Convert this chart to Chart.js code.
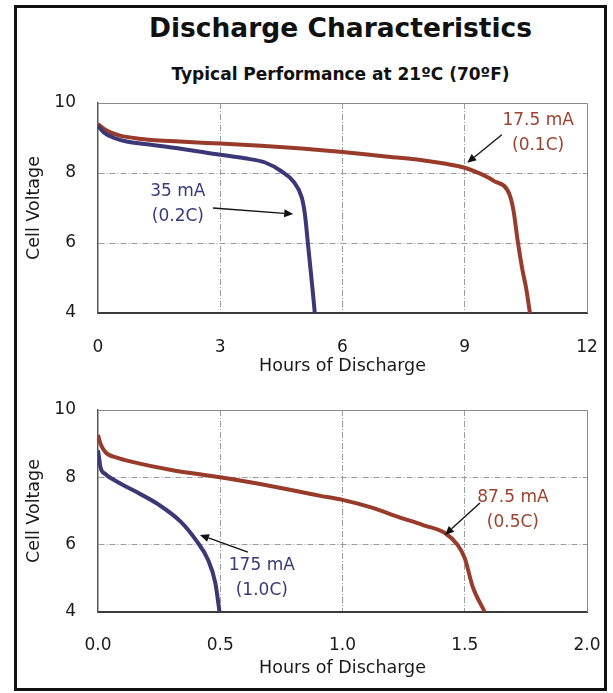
<!DOCTYPE html>
<html lang="en">
<head>
<meta charset="UTF-8">
<title>Discharge Characteristics</title>
<script src="https://cdn.jsdelivr.net/npm/chart.js"></script>
<style>
  body { margin: 0; background: #fff; font-family: "DejaVu Sans", Verdana, sans-serif; }
  .page { position: relative; width: 613px; height: 693px; overflow: hidden; }
  .frame { position: absolute; left: 14px; top: 5px; width: 587px; height: 680px; border: 3px solid #111; }
  .title { position: absolute; left: 88px; width: 505px; text-align: center; font-weight: bold; color: #111; }
  #mainTitle { top: 12px; font-size: 26.5px; line-height: 32px; }
  #subTitle { top: 63px; font-size: 17px; line-height: 22px; }
  canvas { position: absolute; left: 14px; }
  #topChart { top: 88px; }
  #bottomChart { top: 395px; }
</style>
</head>
<body>
<div class="page">
  <div class="frame"></div>
  <div class="title" id="mainTitle">Discharge Characteristics</div>
  <div class="title" id="subTitle">Typical Performance at 21ºC (70ºF)</div>
  <canvas id="topChart" width="591" height="300"></canvas>
  <canvas id="bottomChart" width="591" height="295"></canvas>
</div>

<script>
// upper chart: 0.2C and 0.1C
const hours35 = [0, 0.15, 0.4, 0.7, 1.2, 2, 3, 3.6, 4.1, 4.5, 4.8, 5.0, 5.08, 5.15, 5.22, 5.28, 5.32];
const volts35 = [9.35, 9.15, 9.0, 8.9, 8.82, 8.7, 8.52, 8.42, 8.3, 8.05, 7.75, 7.3, 6.8, 6.0, 5.2, 4.5, 4.0];
const hours17 = [0, 0.2, 0.5, 1, 2, 3, 4, 5, 6, 7, 8, 8.5, 9, 9.3, 9.7, 10.1, 10.2, 10.3, 10.42, 10.5, 10.6];
const volts17 = [9.4, 9.22, 9.08, 8.98, 8.9, 8.84, 8.78, 8.7, 8.6, 8.48, 8.36, 8.27, 8.15, 8.02, 7.78, 7.38, 6.9, 6.05, 5.2, 4.75, 4.0];

// lower chart: 1.0C and 0.5C
const hours175 = [0, 0.005, 0.01, 0.03, 0.08, 0.14, 0.25, 0.34, 0.4, 0.45, 0.48, 0.497];
const volts175 = [8.8, 8.55, 8.3, 8.1, 7.86, 7.63, 7.18, 6.67, 6.14, 5.55, 4.86, 4.0];
const hours87 = [0, 0.01, 0.03, 0.08, 0.14, 0.3, 0.5, 0.7, 0.91, 1.0, 1.12, 1.23, 1.33, 1.42, 1.47, 1.5, 1.533, 1.582];
const volts87 = [9.26, 9.0, 8.75, 8.58, 8.46, 8.22, 8.0, 7.75, 7.45, 7.33, 7.1, 6.82, 6.58, 6.34, 6.0, 5.6, 4.74, 4.0];

const voltTicks = [4, 10, 2];      // min, max, step
const topHourTicks = [0, 12, 3];
const bottomHourTicks = [0, 2, 0.5];

// labels: text lines, centre of the two lines, arrow from -> to (data units)
const topNotes = [
  { lines: ['35 mA', '(0.2C)'], color: '#3a3a7a', at: [1.96, 7.1], from: [2.82, 7.0], to: [4.79, 6.83] },
  { lines: ['17.5 mA', '(0.1C)'], color: '#9a4430', at: [10.8, 9.13], from: [9.91, 9.09], to: [9.06, 8.29] }
];
const bottomNotes = [
  { lines: ['175 mA', '(1.0C)'], color: '#3a3a7a', at: [0.67, 5.0], from: [0.613, 5.78], to: [0.417, 6.29] },
  { lines: ['87.5 mA', '(0.5C)'], color: '#9a4430', at: [1.697, 7.04], from: [1.562, 7.24], to: [1.419, 6.29] }
];

const NAVY = '#3b3875';
const BROWN = '#983b2a';
const FONT = '"DejaVu Sans", Verdana, sans-serif';

function toPoints(xs, ys) {
  return xs.map((x, i) => ({ x: x, y: ys[i] }));
}

function series(xs, ys, color) {
  return {
    data: toPoints(xs, ys),
    borderColor: color,
    borderWidth: 4,
    pointRadius: 0,
    cubicInterpolationMode: 'monotone',
    fill: false
  };
}

const notesPlugin = {
  id: 'notes',
  beforeDatasetsDraw(chart) {
    const { ctx, chartArea: a } = chart;
    ctx.save();
    ctx.strokeStyle = '#8a8a8a';
    ctx.lineWidth = 1;
    ctx.beginPath();
    ctx.moveTo(a.left, a.top + 0.5);
    ctx.lineTo(a.right + 0.5, a.top + 0.5);
    ctx.lineTo(a.right + 0.5, a.bottom);
    ctx.stroke();
    ctx.restore();
  },
  afterDatasetsDraw(chart, args, opts) {
    const { ctx, scales } = chart;
    const px = v => scales.x.getPixelForValue(v);
    const py = v => scales.y.getPixelForValue(v);
    ctx.save();
    opts.notes.forEach(n => {
      ctx.font = '17px ' + FONT;
      ctx.fillStyle = n.color;
      ctx.textAlign = 'center';
      ctx.textBaseline = 'middle';
      const cx = px(n.at[0]), cy = py(n.at[1]);
      n.lines.forEach((t, i) => ctx.fillText(t, cx, cy + (i - 0.5) * 25));

      const x1 = px(n.from[0]), y1 = py(n.from[1]);
      const x2 = px(n.to[0]), y2 = py(n.to[1]);
      const ang = Math.atan2(y2 - y1, x2 - x1);
      const head = 9;
      ctx.strokeStyle = '#111';
      ctx.fillStyle = '#111';
      ctx.lineWidth = 1.3;
      ctx.beginPath();
      ctx.moveTo(x1, y1);
      ctx.lineTo(x2 - head * Math.cos(ang), y2 - head * Math.sin(ang));
      ctx.stroke();
      ctx.beginPath();
      ctx.moveTo(x2, y2);
      ctx.lineTo(x2 - head * Math.cos(ang) + 4 * Math.sin(ang), y2 - head * Math.sin(ang) - 4 * Math.cos(ang));
      ctx.lineTo(x2 - head * Math.cos(ang) - 4 * Math.sin(ang), y2 - head * Math.sin(ang) + 4 * Math.cos(ang));
      ctx.closePath();
      ctx.fill();
    });
    ctx.restore();
  }
};

function gridColor(min, max) {
  return c => (c.tick && (c.tick.value === min || c.tick.value === max)) ? 'rgba(0,0,0,0)' : '#9c9c9c';
}

function noOverhang(s) {
  s.paddingTop = 0; s.paddingBottom = 0; s.paddingLeft = 0; s.paddingRight = 0;
}

function makeChart(id, datasets, hourTicks, notes, xHeight, xPad, fmt) {
  return new Chart(document.getElementById(id), {
    type: 'line',
    data: { datasets: datasets },
    plugins: [notesPlugin],
    options: {
      responsive: false,
      animation: false,
      layout: { padding: { top: 15, right: 18, left: 0, bottom: 0 } },
      plugins: { legend: { display: false }, tooltip: { enabled: false }, notes: { notes: notes } },
      scales: {
        x: {
          type: 'linear',
          min: hourTicks[0], max: hourTicks[1],
          afterFit: s => { s.height = xHeight; noOverhang(s); },
          ticks: { stepSize: hourTicks[2], padding: xPad, color: '#1a1a1a', font: { family: FONT, size: 17 },
                   callback: fmt },
          grid: { drawTicks: false, lineWidth: 1, color: gridColor(hourTicks[0], hourTicks[1]) },
          border: { display: true, color: '#3a3a3a', width: 2, dash: [6, 2, 1, 2] },
          title: { display: true, text: 'Hours of Discharge', color: '#1a1a1a',
                   font: { family: FONT, size: 17.5 }, padding: { top: 0, bottom: 11.5 } }
        },
        y: {
          min: voltTicks[0], max: voltTicks[1],
          afterFit: s => { s.width = 84; noOverhang(s); },
          ticks: { stepSize: voltTicks[2], padding: 22, color: '#1a1a1a', font: { family: FONT, size: 17 } },
          grid: { drawTicks: false, lineWidth: 1, color: gridColor(voltTicks[0], voltTicks[1]) },
          border: { display: true, color: '#555', width: 1.5, dash: [6, 2, 1, 2] },
          title: { display: true, text: 'Cell Voltage', color: '#1a1a1a',
                   font: { family: FONT, size: 17.5 }, padding: { top: 9.5, bottom: 0 } }
        }
      }
    }
  });
}

makeChart('topChart',
  [series(hours35, volts35, NAVY), series(hours17, volts17, BROWN)],
  topHourTicks, topNotes, 75, 24, v => v);

makeChart('bottomChart',
  [series(hours175, volts175, NAVY), series(hours87, volts87, BROWN)],
  bottomHourTicks, bottomNotes, 78, 23, v => Number(v).toFixed(1));
</script>
</body>
</html>
